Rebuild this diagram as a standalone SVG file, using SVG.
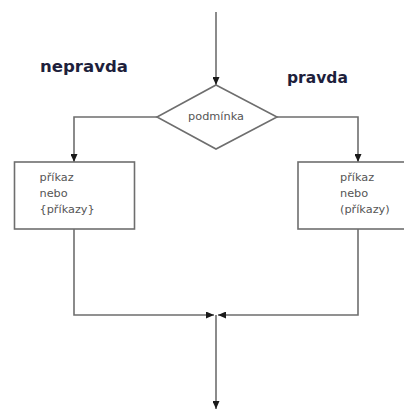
<svg xmlns="http://www.w3.org/2000/svg" width="404" height="409" viewBox="0 0 404 409">
<style>
.ln{fill:none;stroke:#6e6e6e;stroke-width:1.6}
.shape{fill:#fff;stroke:#6e6e6e;stroke-width:1.6}
.lbl{font-family:"DejaVu Sans",sans-serif;font-weight:bold;font-size:15.5px;fill:#1e1f3c}
.t{font-family:"DejaVu Sans",sans-serif;font-size:11.3px;fill:#555}
</style>
<defs>
<marker id="ah" viewBox="0 0 8 7" refX="8" refY="3.5" markerWidth="8" markerHeight="7" markerUnits="userSpaceOnUse" orient="auto">
<path d="M0,0 L8,3.5 L0,7 Z" fill="#1a1a1a"/>
</marker>
</defs>
<rect width="404" height="409" fill="#fff"/>
<g id="connectors">
<path class="ln" d="M216,12 V85" marker-end="url(#ah)"/>
<path class="ln" d="M157,117 H74 V162" marker-end="url(#ah)"/>
<path class="ln" d="M277,117 H358 V162" marker-end="url(#ah)"/>
<path class="ln" d="M74,229 V315 H214" marker-end="url(#ah)"/>
<path class="ln" d="M358,229 V315 H218" marker-end="url(#ah)"/>
<path class="ln" d="M216,315 V409" marker-end="url(#ah)"/>
</g>
<g id="label-nepravda"><text class="lbl" x="40" y="72" textLength="88" lengthAdjust="spacingAndGlyphs">nepravda</text></g>
<g id="label-pravda"><text class="lbl" x="287" y="83">pravda</text></g>
<g id="condition">
<polygon class="shape" points="216,85 277,117 216,149 157,117"/>
<text class="t" x="216" y="120" text-anchor="middle">podmínka</text>
</g>
<g id="box-false">
<rect class="shape" x="14.5" y="162" width="120" height="67"/>
<text class="t" x="39.5" y="181">příkaz</text>
<text class="t" x="39.5" y="197">nebo</text>
<text class="t" x="39.5" y="213">{příkazy}</text>
</g>
<g id="box-true">
<rect class="shape" x="298" y="162" width="120" height="67"/>
<text class="t" x="340" y="181">příkaz</text>
<text class="t" x="340" y="197">nebo</text>
<text class="t" x="340" y="213">(příkazy)</text>
</g>
</svg>
